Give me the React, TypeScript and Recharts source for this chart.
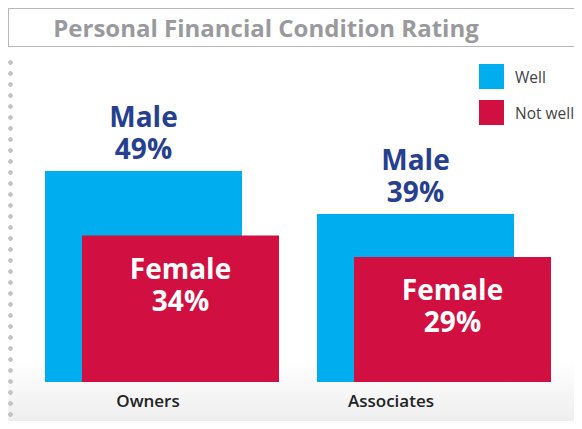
import { Bar, BarChart, LabelList, XAxis, YAxis } from "recharts";

const categories = ["Owners", "Associates"];
const wellValues = [49, 39];
const notWellValues = [34, 29];
const seriesNames = ["Well", "Not well"];
const wellLabel = "Male";
const notWellLabel = "Female";

const BLUE = "#00aeef";
const RED = "#d20f41";
const NAVY = "#263f8e";
const FONT = "'Open Sans', sans-serif";

const data = categories.map((name, i) => ({ name, well: wellValues[i], notWell: notWellValues[i] }));

// labels under the categories are not centred on the band in the original
const tickShift = [-14, -43];

function CategoryTick(props: any) {
  const { x, y, payload, index } = props;
  return (
    <text x={x + (tickShift[index] ?? 0)} y={y + 25} textAnchor="middle" fontFamily={FONT} fontSize={17} fontWeight={600} fill="#222">
      {payload.value}
    </text>
  );
}

function MaleLabel(props: any) {
  const { x, y, width, value } = props;
  const cx = x + width / 2;
  return (
    <text x={cx} y={y - 44} fontFamily={FONT} fontWeight={700} fontSize={28} fill={NAVY} textAnchor="middle">
      <tspan x={cx}>{wellLabel}</tspan>
      <tspan x={cx} dy={32}>{value}%</tspan>
    </text>
  );
}

function FemaleLabel(props: any) {
  const { x, y, width, value } = props;
  const cx = x + width / 2;
  return (
    <text x={cx} y={y + 43} fontFamily={FONT} fontWeight={700} fontSize={28} fill="#fff" textAnchor="middle">
      <tspan x={cx}>{notWellLabel}</tspan>
      <tspan x={cx} dy={32}>{value}%</tspan>
    </text>
  );
}

const dots = (dir: "x" | "y") => ({
  position: "absolute" as const,
  backgroundImage: "radial-gradient(circle, #c4c4c8 2px, transparent 2.6px)",
  backgroundSize: "11px 11px",
  backgroundRepeat: dir === "x" ? "repeat-x" : "repeat-y",
});

export default function App() {
  return (
    <div
      style={{
        position: "relative",
        width: 582,
        height: 429,
        margin: -8,
        overflow: "hidden",
        background: "linear-gradient(to bottom, #fff 0%, #fff 84%, #ececec 100%)",
        fontFamily: FONT,
      }}
    >
      <div
        style={{
          position: "absolute",
          left: 8,
          top: 8,
          width: 600,
          height: 39,
          border: "1px solid #b8b8bc",
          boxSizing: "border-box",
        }}
      />
      <div
        style={{
          position: "absolute",
          left: 0,
          top: 8,
          width: 532,
          height: 39,
          lineHeight: "39px",
          textAlign: "center",
          color: "#9a9a9e",
          fontWeight: 700,
          fontSize: 24,
        }}
      >
        Personal Financial Condition Rating
      </div>
      <div style={{ ...dots("y"), left: 5, top: 57, width: 11, height: 366 }} />
      <div style={{ ...dots("x"), left: 5, top: 422, width: 582, height: 11 }} />

      <div style={{ position: "absolute", left: 479, top: 64 }}>
        {seriesNames.map((s, i) => (
          <div key={s} style={{ display: "flex", alignItems: "center", height: 25, marginBottom: 11 }}>
            <div style={{ width: 25, height: 25, background: i === 0 ? BLUE : RED }} />
            <span style={{ marginLeft: 11, fontSize: 15.5, color: "#444" }}>{s}</span>
          </div>
        ))}
      </div>

      <div style={{ position: "absolute", left: 0, top: 0 }}>
        <BarChart
          width={582}
          height={429}
          data={data}
          margin={{ top: 59, right: 12, bottom: 0, left: 26 }}
          barSize={197}
          barGap={-160}
          barCategoryGap={0}
        >
          <XAxis
            dataKey="name"
            axisLine={false}
            tickLine={false}
            tickSize={0}
            tickMargin={0}
            height={47}
            interval={0}
            tick={<CategoryTick />}
          />
          <YAxis hide domain={[0, 75]} />
          <Bar dataKey="well" name={seriesNames[0]} fill={BLUE} isAnimationActive={false}>
            <LabelList dataKey="well" content={<MaleLabel />} />
          </Bar>
          <Bar dataKey="notWell" name={seriesNames[1]} fill={RED} isAnimationActive={false}>
            <LabelList dataKey="notWell" content={<FemaleLabel />} />
          </Bar>
        </BarChart>
      </div>
    </div>
  );
}
